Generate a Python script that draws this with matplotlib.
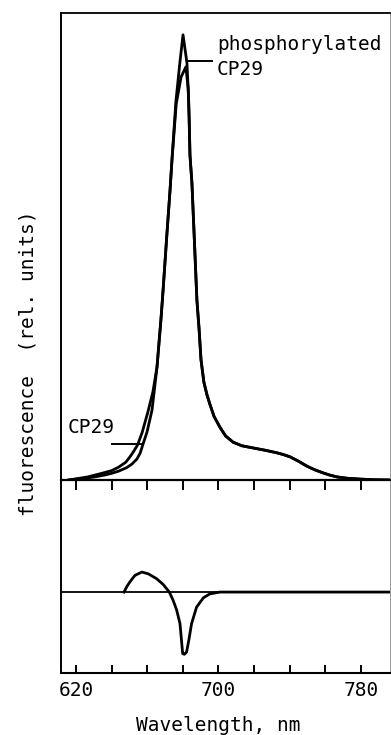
import matplotlib
matplotlib.use("Agg")
from matplotlib import pyplot as plt

plt.rcParams['font.family'] = ['DejaVu Sans Mono']

# emission spectra (rel. units, CP29 peak = 100)
wl_cp29 = [616.0, 620.6, 625.0, 630.7, 636.0, 640.0, 644.0, 648.6, 651.5, 654.2, 656.0, 657.6,
           659.9, 662.7, 665.5, 667.7, 668.8, 671.1, 672.8, 674.0, 676.1, 678.4, 680.1, 682.3,
           683.2, 684.0, 685.1, 686.3, 687.9, 689.1, 690.2, 691.8, 693.5, 695.2, 697.5, 700.9,
           704.0, 708.2, 713.0, 719.4, 726.0, 732.9, 736.5, 740.2, 745.0, 749.7, 754.0, 758.7,
           762.5, 766.5, 772.0, 779.5, 788.0, 796.0]
fl_cp29 = [0.0, 0.2, 0.4, 0.7, 1.1, 1.5, 2.0, 2.8, 3.6, 4.7, 6.0, 8.0,
           10.8, 15.7, 25.4, 36.0, 42.0, 55.5, 65.0, 72.5, 85.0, 94.0, 100.0, 93.7,
           86.0, 73.0, 66.7, 55.5, 40.4, 34.0, 27.0, 22.0, 19.2, 17.0, 14.3, 11.8,
           9.9, 8.5, 7.7, 7.2, 6.7, 6.1, 5.7, 5.2, 4.2, 3.1, 2.3, 1.6,
           1.1, 0.7, 0.4, 0.2, 0.05, 0.0]

wl_phos = [616.0, 620.6, 626.7, 634.5, 640.0, 644.0, 648.0, 650.5, 652.5, 654.5, 657.1, 660.4,
           663.2, 665.5, 667.7, 668.8, 671.1, 672.8, 674.0, 676.3, 679.0, 681.7, 683.0, 683.6,
           684.0, 685.1, 686.3, 687.9, 689.1, 690.2, 691.8, 693.5, 695.2, 697.5, 700.9,
           704.0, 708.2, 713.0, 719.4, 726.0, 732.9, 736.5, 740.2, 745.0, 749.7, 754.0, 758.7,
           762.5, 766.5, 772.0, 779.5, 788.0, 796.0]
fl_phos = [0.0, 0.3, 0.7, 1.5, 2.1, 2.9, 4.0, 5.3, 6.5, 7.8, 10.6, 15.3,
           19.8, 25.4, 36.0, 42.0, 55.5, 65.0, 72.5, 84.5, 90.5, 92.8, 88.0, 81.0,
           73.0, 66.7, 55.5, 40.4, 34.0, 27.0, 22.0, 19.2, 17.0, 14.3, 11.8,
           9.9, 8.5, 7.7, 7.2, 6.7, 6.1, 5.7, 5.2, 4.2, 3.1, 2.3, 1.6,
           1.1, 0.7, 0.4, 0.2, 0.05, 0.0]

# difference spectrum
wl_diff = [647.0, 648.5, 650.3, 653.1, 657.0, 660.6, 665.3, 669.0, 670.9, 672.4, 674.5, 676.5,
           678.4, 679.9, 680.8, 682.1, 683.5, 684.9, 687.7, 691.5, 695.2, 700.9, 796.3]
diff = [0.0, 1.2, 2.3, 3.75, 4.5, 4.1, 3.0, 1.7, 0.76, 0.0, -1.8, -4.0,
        -7.1, -13.8, -14.0, -13.5, -10.5, -7.1, -3.4, -1.3, -0.4, 0.0, 0.0]

xticks = [620, 640, 660, 680, 700, 720, 740, 760, 780]
xticklabels = ['620', '', '', '', '700', '', '', '', '780']

fig = plt.figure(figsize=(3.91, 7.35), dpi=100)
ax2 = fig.add_axes([61/391, 1-673/735, 329/391, 193/735])
ax1 = fig.add_axes([61/391, 1-480/735, 329/391, 467/735])
ax1.patch.set_visible(False)
ax2.patch.set_visible(False)

xlim = (611.6, 796.3)

# upper panel
ax1.plot(wl_phos, fl_phos, color='k', lw=2.0, solid_joinstyle='round')
ax1.plot(wl_cp29, fl_cp29, color='k', lw=2.0, solid_joinstyle='round')
ax1.set_xlim(xlim)
ax1.set_ylim(0, 104.9)
ax1.set_yticks([])
ax1.set_xticks(xticks)
ax1.set_xticklabels([])
ax1.tick_params(axis='x', direction='out', length=7, width=1.4)
ax1.spines['left'].set_linewidth(1.4)
ax1.spines['bottom'].set_linewidth(1.6)
ax1.spines['top'].set_linewidth(1.3)
ax1.spines['right'].set_linewidth(0.7)
ax1.spines['right'].set_color('0.6')

ax1.plot([682.9, 696.4], [94.2, 94.2], color='k', lw=1.4)
ax1.text(699.2, 96.6, 'phosphorylated', fontsize=14, ha='left', va='baseline')
ax1.text(699.2, 91.0, 'CP29', fontsize=14, ha='left', va='baseline')
ax1.plot([640.0, 657.8], [8.0, 8.0], color='k', lw=1.4)
ax1.text(615.5, 10.6, 'CP29', fontsize=14, ha='left', va='baseline')

# lower panel
ax2.axhline(0, color='k', lw=1.3)
ax2.plot(wl_diff, diff, color='k', lw=2.0, solid_joinstyle='round')
ax2.set_xlim(xlim)
ax2.set_ylim(-18.2, 25.2)
ax2.set_yticks([])
ax2.set_xticks(xticks)
ax2.set_xticklabels(xticklabels, fontsize=14)
ax2.tick_params(axis='x', direction='in', length=6, width=1.4, pad=6)
ax2.spines['top'].set_visible(False)
ax2.spines['left'].set_linewidth(1.4)
ax2.spines['bottom'].set_linewidth(1.5)
ax2.spines['right'].set_linewidth(0.7)
ax2.spines['right'].set_color('0.6')

fig.text(28/391, 1-363/735, 'fluorescence  (rel. units)', rotation=90,
         fontsize=14, ha='center', va='center')
fig.text(218.5/391, 1-731/735, 'Wavelength, nm', fontsize=14, ha='center', va='baseline')

fig.savefig('out.png', dpi=100)
